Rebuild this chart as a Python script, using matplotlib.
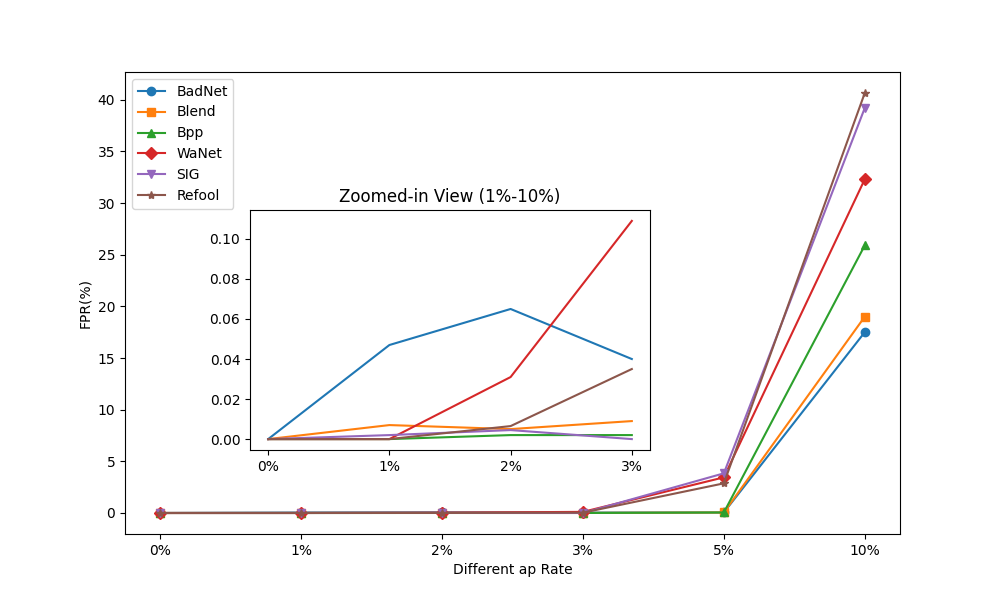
import numpy as np
from matplotlib import pyplot as plt

# x categories
rates = ["0%", "1%", "2%", "3%", "5%", "10%"]

# FPR(%) per attack
badnet = [0.0, 0.047, 0.065, 0.040, 0.05, 17.5]
blend = [0.0, 0.007, 0.005, 0.009, 0.05, 19.0]
bpp = [0.0, 0.0, 0.002, 0.002, 0.05, 25.9]
wanet = [0.0, 0.0, 0.031, 0.109, 3.45, 32.3]
sig = [0.0, 0.002, 0.0045, 0.0, 3.84, 39.2]
refool = [0.0, 0.0, 0.0065, 0.035, 2.87, 40.65]

names = ["BadNet", "Blend", "Bpp", "WaNet", "SIG", "Refool"]
series = [badnet, blend, bpp, wanet, sig, refool]
markers = ["o", "s", "^", "D", "v", "*"]

x = np.arange(len(rates))

fig = plt.figure(figsize=(10, 6), dpi=100)
ax = fig.add_subplot(111)

for name, vals, m in zip(names, series, markers):
    ax.plot(x, vals, marker=m, label=name)

ax.set_xticks(x)
ax.set_xticklabels(rates)
ax.set_xlabel("Different ap Rate")
ax.set_ylabel("FPR(%)")
ax.legend(loc="upper left")

# Inset with the first four rates
n_zoom = 4
axins = fig.add_axes([0.25, 0.25, 0.4, 0.4])
for vals in series:
    axins.plot(x[:n_zoom], vals[:n_zoom])
axins.set_xticks(x[:n_zoom])
axins.set_xticklabels(rates[:n_zoom])
axins.set_title("Zoomed-in View (1%-10%)")

fig.savefig("out.png")
